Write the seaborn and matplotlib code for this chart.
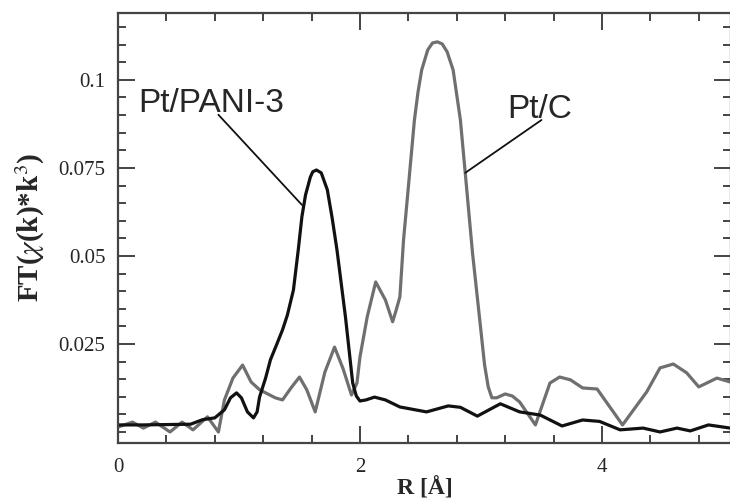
"""
FT-EXAFS magnitude of Pt/PANI-3 vs Pt/C, redrawn with seaborn
"""
import numpy as np
import pandas as pd
import matplotlib
matplotlib.use('Agg')
import matplotlib.pyplot as plt
from matplotlib.ticker import MultipleLocator
import seaborn as sns

sns.set_style('ticks')
plt.rcParams['font.family'] = ['Liberation Serif', 'DejaVu Serif']
plt.rcParams['mathtext.fontset'] = 'stix'

# Pt/PANI-3 (black curve)
r_pani = [0.0, 0.2, 0.4, 0.6, 0.7, 0.8, 0.88, 0.93, 0.98, 1.02, 1.07, 1.12,
          1.15, 1.17, 1.22, 1.26, 1.31, 1.36, 1.40, 1.45, 1.49, 1.52, 1.55,
          1.59, 1.61, 1.64, 1.68, 1.73, 1.77, 1.81, 1.88, 1.91, 1.94, 1.97,
          2.0, 2.05, 2.12, 2.21, 2.33, 2.55, 2.73, 2.83, 2.97, 3.16, 3.32,
          3.49, 3.67, 3.84, 3.98, 4.15, 4.34, 4.48, 4.62, 4.73, 4.88, 5.06]
ft_pani = [0.0020, 0.0020, 0.0021, 0.0022, 0.0035, 0.0040, 0.0063, 0.0097,
           0.0111, 0.0097, 0.0057, 0.0040, 0.0057, 0.0099, 0.0153, 0.0205,
           0.0247, 0.0290, 0.0332, 0.0403, 0.0517, 0.0611, 0.0673, 0.0724,
           0.0739, 0.0744, 0.0736, 0.0688, 0.0608, 0.0517, 0.0327, 0.0233,
           0.0139, 0.0102, 0.0088, 0.0091, 0.0099, 0.0091, 0.0071, 0.0057,
           0.0074, 0.0070, 0.0045, 0.0080, 0.0057, 0.0048, 0.0017, 0.0034,
           0.0030, 0.0006, 0.0011, 0.0000, 0.0011, 0.0003, 0.0020, 0.0011]

# Pt/C (grey curve)
r_ptc = [0.0, 0.12, 0.21, 0.31, 0.43, 0.53, 0.62, 0.74, 0.83, 0.88, 0.95,
         1.03, 1.10, 1.17, 1.30, 1.36, 1.43, 1.50, 1.56, 1.63, 1.71, 1.79,
         1.86, 1.93, 1.975, 2.0, 2.06, 2.13, 2.21, 2.27, 2.30, 2.33, 2.36,
         2.40, 2.45, 2.48, 2.51, 2.56, 2.60, 2.64, 2.68, 2.72, 2.77, 2.80,
         2.83, 2.87, 2.93, 2.99, 3.03, 3.06, 3.09, 3.13, 3.20, 3.26, 3.32,
         3.45, 3.57, 3.65, 3.74, 3.84, 3.96, 4.17, 4.37, 4.48, 4.59, 4.70,
         4.80, 4.95, 5.06]
ft_ptc = [0.0014, 0.0028, 0.0011, 0.0028, 0.0000, 0.0028, 0.0006, 0.0043,
          0.0000, 0.0091, 0.0153, 0.0190, 0.0142, 0.0120, 0.0097, 0.0091,
          0.0125, 0.0156, 0.0120, 0.0057, 0.0170, 0.0241, 0.0180, 0.0105,
          0.0139, 0.0213, 0.0327, 0.0426, 0.0375, 0.0313, 0.0347, 0.0384,
          0.0545, 0.0696, 0.0886, 0.0966, 0.1028, 0.1085, 0.1105, 0.1108,
          0.1102, 0.1080, 0.1028, 0.0957, 0.0886, 0.0736, 0.0509, 0.0318,
          0.0190, 0.0128, 0.0097, 0.0097, 0.0108, 0.0102, 0.0085, 0.0020,
          0.0139, 0.0156, 0.0148, 0.0125, 0.0122, 0.0020, 0.0114, 0.0182,
          0.0193, 0.0168, 0.0128, 0.0153, 0.0142]

y_ticks = [0.025, 0.05, 0.075, 0.1]
y_tick_labels = ['0.025', '0.05', '0.075', '0.1']
x_ticks = [0, 2, 4]

fig = plt.figure(figsize=(7.30, 5.01), dpi=100)
ax = fig.add_axes([0.1616, 0.1158, 0.8397, 0.8583])

sns.lineplot(x=r_ptc, y=ft_ptc, ax=ax, color='#6f6f6f', linewidth=2.3, sort=False)
sns.lineplot(x=r_pani, y=ft_pani, ax=ax, color='#111111', linewidth=2.3, sort=False)

ax.set_xlim(0, 5.066)
ax.set_ylim(-0.00313, 0.119)

ax.set_xticks(x_ticks)
ax.set_xticklabels([str(v) for v in x_ticks])
ax.set_yticks(y_ticks)
ax.set_yticklabels(y_tick_labels)
ax.xaxis.set_minor_locator(MultipleLocator(0.4))
ax.yaxis.set_minor_locator(MultipleLocator(0.005))

ax.tick_params(which='both', direction='in', top=True, right=True,
               color='#444444', width=1.4, labelsize=15)
ax.tick_params(which='major', length=12)
ax.tick_params(which='minor', length=6)
ax.tick_params(axis='y', pad=9)
ax.tick_params(axis='x', pad=11)

for sp in ax.spines.values():
    sp.set_color('#444444')
    sp.set_linewidth(1.6)

ax.set_xlabel(r'R [Å]', fontsize=17, fontweight='bold', labelpad=0)
ax.set_ylabel(r'FT($\chi$(k)*k$^3$)', fontsize=21, fontweight='bold', labelpad=8)

# curve labels with leader lines
ax.text(0.165, 0.0909, 'Pt/PANI-3', family=['Liberation Sans', 'DejaVu Sans'],
        fontsize=24, va='baseline', ha='left')
ax.annotate('', xy=(1.52, 0.0645), xytext=(0.83, 0.0901),
            arrowprops=dict(arrowstyle='-', color='#111111', lw=1.3,
                            shrinkA=0, shrinkB=0))
ax.text(3.22, 0.0892, 'Pt/C', family=['Liberation Sans', 'DejaVu Sans'],
        fontsize=24, va='baseline', ha='left')
ax.annotate('', xy=(2.87, 0.0736), xytext=(3.50, 0.0886),
            arrowprops=dict(arrowstyle='-', color='#111111', lw=1.3,
                            shrinkA=0, shrinkB=0))

fig.savefig('out.png', dpi=100)
plt.close(fig)
